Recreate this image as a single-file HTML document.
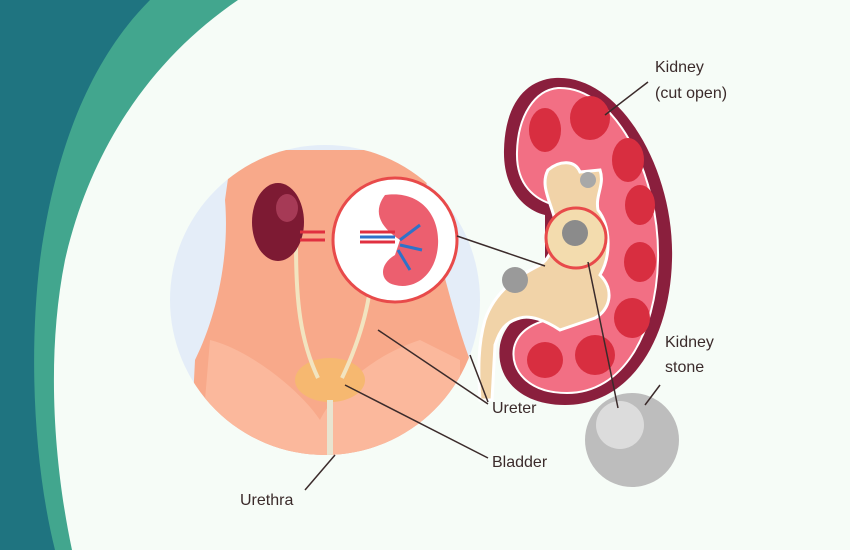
<!DOCTYPE html>
<html><head><style>
html,body{margin:0;padding:0;background:#f6fcf7;}
svg{display:block}
text{font-family:"Liberation Sans",sans-serif;font-size:16px;fill:#3b2b2b}
</style></head><body>
<svg width="850" height="550" viewBox="0 0 850 550">
<rect width="850" height="550" fill="#f6fcf7"/>
<path d="M0 0 L238 0 C150 60 90 150 65 260 C45 360 55 470 72 550 L0 550 Z" fill="#42a68e"/>
<path d="M0 0 L150 0 C90 60 55 150 40 260 C28 360 35 470 55 550 L0 550 Z" fill="#1f7480"/>
<defs><clipPath id="c"><circle cx="325" cy="300" r="155"/></clipPath></defs>
<circle cx="325" cy="300" r="155" fill="#e4edf8"/>
<g clip-path="url(#c)">
<path d="M232 150 L430 150 L425 200 C440 260 455 320 470 360 L480 460 L190 460 L195 360 C215 320 230 260 225 200 Z" fill="#f8a98a"/>
<path d="M210 340 C250 350 300 390 320 420 C330 400 360 360 420 340 L460 360 L460 460 L200 460 Z" fill="#fbb89c"/>
<ellipse cx="330" cy="380" rx="35" ry="22" fill="#f6b870"/>
<path d="M330 400 L330 460" stroke="#e8e4d0" stroke-width="6"/>
<path d="M296 245 C296 300 300 340 318 378 M372 260 C372 300 360 340 342 378" stroke="#f2e4c0" stroke-width="4" fill="none"/>
</g>
<ellipse cx="278" cy="222" rx="26" ry="39" fill="#7d1a33"/>
<ellipse cx="287" cy="208" rx="11" ry="14" fill="#a63a56"/>
<path d="M300 232 L325 232 M300 240 L325 240" stroke="#e03040" stroke-width="3"/>
<circle cx="395" cy="240" r="62" fill="#fff" stroke="#e84a4a" stroke-width="3"/>
<path d="M385 195 C420 190 440 215 438 245 C436 275 415 290 395 285 C380 282 378 265 395 255 L400 240 C385 230 370 215 385 195 Z" fill="#ec5f6f"/>
<path d="M400 240 L420 225 M400 245 L422 250 M398 250 L410 270" stroke="#2f72c8" stroke-width="3"/>
<path d="M360 232 L395 232 M360 242 L395 242" stroke="#e03040" stroke-width="3"/>
<path d="M360 237 L395 237" stroke="#2f72c8" stroke-width="3"/>
<!-- big kidney -->
<path d="M555 78 C620 74 675 170 672 260 C670 340 630 405 565 405 C520 405 495 378 500 345 C505 320 525 310 545 305 L545 215 C525 210 503 190 504 150 C505 105 525 80 555 78 Z" fill="#8a1f3d"/>
<path d="M558 88 C615 86 660 175 658 260 C656 335 622 393 567 393 C528 393 510 370 514 348 C518 330 535 322 555 318 L555 205 C535 200 516 185 517 152 C518 115 535 90 558 88 Z" fill="#f26f84" stroke="#fff" stroke-width="2"/>
<g fill="#d82e40">
<ellipse cx="545" cy="130" rx="16" ry="22"/><ellipse cx="590" cy="118" rx="20" ry="22"/>
<ellipse cx="628" cy="160" rx="16" ry="22"/><ellipse cx="640" cy="205" rx="15" ry="20"/>
<ellipse cx="640" cy="262" rx="16" ry="20"/><ellipse cx="632" cy="318" rx="18" ry="20"/>
<ellipse cx="595" cy="355" rx="20" ry="20"/><ellipse cx="545" cy="360" rx="18" ry="18"/>
</g>
<path d="M548 170 C560 160 575 160 580 172 L600 170 C605 185 595 195 598 210 C610 225 612 255 600 275 C615 290 610 310 595 318 L560 330 C545 320 530 315 520 318 C505 322 500 330 495 345 L492 400 L480 400 C478 370 478 345 485 320 C495 290 520 275 540 265 C555 255 555 235 555 220 C550 200 540 185 548 170 Z" fill="#f1d3a8" stroke="#fff" stroke-width="3"/>
<circle cx="576" cy="238" r="30" fill="#f3dcae" stroke="#e84a4a" stroke-width="3"/>
<circle cx="575" cy="233" r="13" fill="#8b8b8b"/>
<circle cx="515" cy="280" r="13" fill="#9a9a9a"/>
<circle cx="588" cy="180" r="8" fill="#a8a8a8"/>
<circle cx="632" cy="440" r="47" fill="#bdbdbd"/>
<circle cx="620" cy="425" r="24" fill="#dcdcdc"/>
<g stroke="#3b2b2b" stroke-width="1.5" fill="none">
<line x1="648" y1="82" x2="605" y2="115"/>
<line x1="457" y1="236" x2="545" y2="266"/>
<line x1="588" y1="262" x2="618" y2="408"/>
<line x1="660" y1="385" x2="645" y2="405"/>
<line x1="378" y1="330" x2="488" y2="404"/>
<line x1="470" y1="355" x2="488" y2="402"/>
<line x1="345" y1="385" x2="488" y2="458"/>
<line x1="305" y1="490" x2="335" y2="455"/>
</g>
<text x="655" y="72">Kidney</text>
<text x="655" y="98">(cut open)</text>
<text x="665" y="347">Kidney</text>
<text x="665" y="372">stone</text>
<text x="492" y="413">Ureter</text>
<text x="492" y="467">Bladder</text>
<text x="240" y="505">Urethra</text>
</svg>
</body></html>
